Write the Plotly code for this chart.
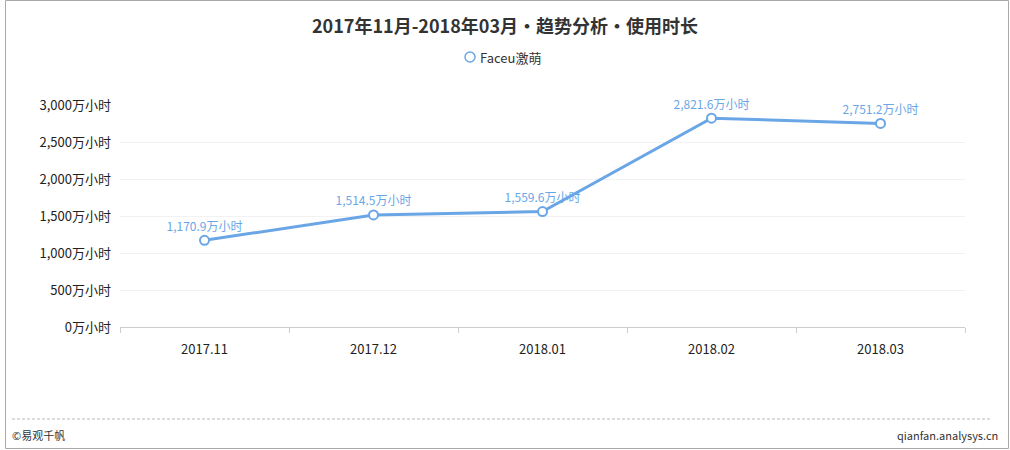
import plotly.graph_objects as go

months = ["2017.11", "2017.12", "2018.01", "2018.02", "2018.03"]
usage_hours = [1170.9, 1514.5, 1559.6, 2821.6, 2751.2]
series_name = "Faceu激萌"
y_ticks = [0, 500, 1000, 1500, 2000, 2500, 3000]

BLUE = "#6aa6e6"
FONT = "Noto Sans CJK SC"
W, H = 845, 222  # plot area size in px, used to place paper-coordinate decorations


def px(x):
    return (x - 120) / W


def py(y):
    return (327 - y) / H


fig = go.Figure()
fig.add_trace(go.Scatter(
    x=months, y=usage_hours, name=series_name, showlegend=False,
    mode="lines+markers+text",
    line=dict(color=BLUE, width=3),
    marker=dict(size=9, color="white", line=dict(color=BLUE, width=2)),
    text=[f"{v:,.1f}万小时" for v in usage_hours],
    textposition="top center",
    textfont=dict(color=BLUE, size=12, family=FONT),
    cliponaxis=False,
))

fig.update_layout(
    width=1010, height=450,
    paper_bgcolor="white", plot_bgcolor="white",
    font=dict(family=FONT, size=13, color="#333"),
    margin=dict(l=120, r=45, t=105, b=123),
    title=dict(text="<b>2017年11月-2018年03月•趋势分析•使用时长</b>",
               x=0.5, xanchor="center", y=0.94, yanchor="middle",
               font=dict(size=18, color="#333", family=FONT)),
    showlegend=False,
    xaxis=dict(type="category", range=[-0.5, 4.5], showgrid=False,
               showline=True, linecolor="#ccc", ticks="outside",
               tickson="boundaries", tickcolor="#ccc", ticklen=5,
               ticklabelstandoff=10,
               tickfont=dict(size=13, color="#222")),
    yaxis=dict(range=[0, 3000], tickvals=y_ticks,
               ticktext=[f"{v:,}万小时" for v in y_ticks],
               showgrid=True, gridcolor="#f2f2f2",
               zeroline=False, showline=False, ticks="",
               ticklabelstandoff=8,
               tickfont=dict(size=13, color="#222")),
    shapes=[
        dict(type="rect", xref="paper", yref="paper", x0=px(5.5), x1=px(1008.5),
             y0=py(448.5), y1=py(0.5), line=dict(color="#aaa", width=1)),
        dict(type="line", xref="paper", yref="paper", x0=px(12), x1=px(990),
             y0=py(419), y1=py(419), line=dict(color="#bbb", width=1, dash="3px,2px")),
        # legend symbol
        dict(type="circle", xref="paper", yref="paper", x0=px(465), x1=px(475),
             y0=py(62), y1=py(52), line=dict(color=BLUE, width=1.5), fillcolor="white"),
    ],
    annotations=[
        dict(text=series_name, xref="paper", yref="paper", x=px(478), y=py(57),
             xanchor="left", yanchor="middle", showarrow=False,
             font=dict(size=13, color="#333")),
        dict(text="©易观千帆", xref="paper", yref="paper", x=px(10), y=py(435),
             xanchor="left", yanchor="middle", showarrow=False,
             font=dict(size=11, color="#333")),
        dict(text="qianfan.analysys.cn", xref="paper", yref="paper", x=px(1000), y=py(435),
             xanchor="right", yanchor="middle", showarrow=False,
             font=dict(size=11, color="#333")),
    ],
)

fig.write_html("out.html", config={"displayModeBar": False},
               post_script="document.body.style.margin='0';")
